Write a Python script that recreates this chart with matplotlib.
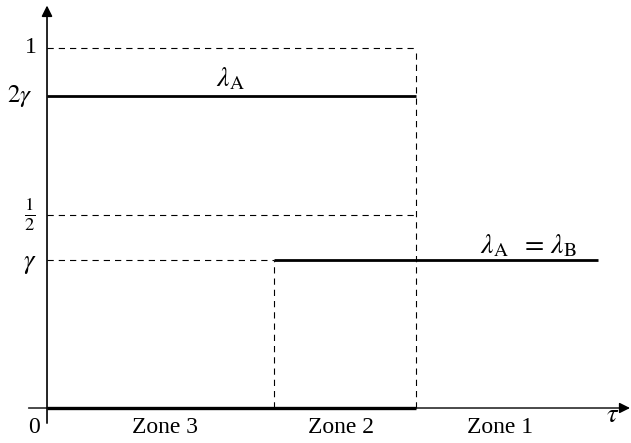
import matplotlib.pyplot as plt

plt.rcParams['font.family'] = ['Liberation Serif', 'DejaVu Serif']
plt.rcParams['mathtext.fontset'] = 'stix'
plt.rcParams['lines.scale_dashes'] = False

# schematic levels (0..1 scale)
level_one = 1.0
level_2gamma = 0.867
level_half = 0.536
level_gamma = 0.411

# tau boundaries between zones
tau_23 = 0.615
tau_12 = 1.0
tau_end = 1.493

zone_names = ["Zone 3", "Zone 2", "Zone 1"]
zone_x = [0.320, 0.797, 1.228]

fig = plt.figure(figsize=(6.31, 4.43), dpi=100)
ax = fig.add_axes([0, 0, 1, 1])
ax.set_xlim(-0.1274, 1.5827)
ax.set_ylim(-0.0972, 1.1333)
ax.axis('off')

dash = dict(color='black', lw=0.8, linestyle=(0, (4.5, 3.6)))
solid = dict(color='black', lw=2.0, solid_capstyle='butt')

# dashed guides
ax.plot([0, tau_12], [level_one, level_one], **dash)
ax.plot([0, tau_12], [level_half, level_half], **dash)
ax.plot([0, tau_23], [level_gamma, level_gamma], **dash)
ax.plot([tau_12, tau_12], [0, level_one], **dash)
ax.plot([tau_23, tau_23], [0, level_gamma], **dash)

# solid rates
ax.plot([0, tau_12], [level_2gamma, level_2gamma], **solid)
ax.plot([tau_23, tau_end], [level_gamma, level_gamma], **solid)
ax.plot([0, tau_12], [0, 0], color='black', lw=2.4, solid_capstyle='butt')

# axes with arrows
ax.annotate('', xy=(0, 1.118), xytext=(0, -0.042),
            arrowprops=dict(arrowstyle='-|>', lw=1.2, color='black',
                            mutation_scale=16, shrinkA=0, shrinkB=0))
ax.annotate('', xy=(1.58, 0), xytext=(-0.05, 0),
            arrowprops=dict(arrowstyle='-|>', lw=1.0, color='black',
                            mutation_scale=16, shrinkA=0, shrinkB=0))

fs = 17
ax.text(-0.027, level_one, "1", ha='right', va='center', fontsize=fs)
ax.text(-0.040, level_2gamma, r"$2\gamma$", ha='right', va='center', fontsize=fs + 1)
ax.text(-0.032, level_half, r"$\frac{1}{2}$", ha='right', va='center', fontsize=fs + 2)
ax.text(-0.027, level_gamma - 0.015, r"$\gamma$", ha='right', va='center', fontsize=fs + 2)
ax.text(-0.035, -0.053, "0", ha='center', va='center', fontsize=fs)
ax.text(1.534, -0.022, r"$\tau$", ha='center', va='center', fontsize=fs + 2)

for name, x in zip(zone_names, zone_x):
    ax.text(x, -0.053, name, ha='center', va='center', fontsize=fs)

ax.text(0.496, 0.878, r"$\lambda_{\mathrm{A}}$", ha='center', va='bottom', fontsize=fs + 3)
ax.text(1.306, 0.412, r"$\lambda_{\mathrm{A}}\;\ =\,\lambda_{\mathrm{B}}$", ha='center',
        va='bottom', fontsize=fs + 3)

fig.savefig("out.png", dpi=100)
